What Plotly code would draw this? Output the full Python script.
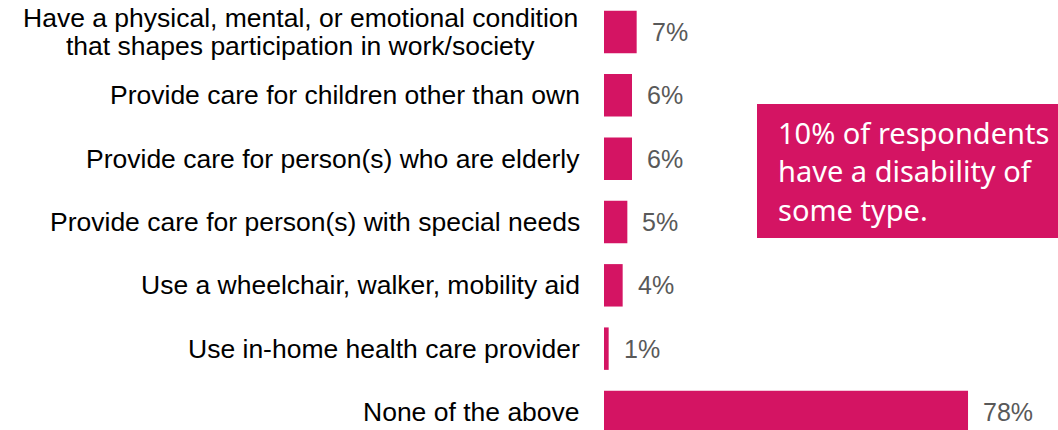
import plotly.graph_objects as go

# Survey responses: share of respondents selecting each item
categories = [
    "Have a physical, mental, or emotional condition<br>that shapes participation in work/society",
    "Provide care for children other than own",
    "Provide care for person(s) who are elderly",
    "Provide care for person(s) with special needs",
    "Use a wheelchair, walker, mobility aid",
    "Use in-home health care provider",
    "None of the above",
]
values = [7, 6, 6, 5, 4, 1, 78]
value_labels = ["7%", "6%", "6%", "5%", "4%", "1%", "78%"]
callout_lines = ["10% of respondents", "have a disability of", "some type."]

W, H = 1058, 430
L = 604                      # left margin in px: where the bars start
BAR_COLOR = "#D41463"
LABEL_FONT = "Liberation Sans, Arial, sans-serif"
CAT_SIZE = 26.5
LINE_STEP = 28               # tight line spacing for wrapped category labels

fig = go.Figure(
    go.Bar(
        x=values,
        y=categories,
        orientation="h",
        marker=dict(color=BAR_COLOR, line=dict(width=0)),
        hoverinfo="skip",
    )
)

annotations = []
# Category labels, right-aligned against the axis; wrapped lines are centred
for cat in categories:
    lines = cat.split("<br>")
    n = len(lines)
    if n == 1:
        annotations.append(dict(
            x=0, xref="paper", y=cat, yref="y",
            text=cat, showarrow=False, xanchor="right", yanchor="middle",
            xshift=-22,
            font=dict(family=LABEL_FONT, size=CAT_SIZE, color="#000000"),
        ))
    else:
        for i, line in enumerate(lines):
            annotations.append(dict(
                x=0, xref="paper", y=cat, yref="y",
                text=line, showarrow=False, xanchor="center", yanchor="middle",
                xshift=-304, yshift=((n - 1) / 2 - i) * LINE_STEP,
                height=LINE_STEP, borderpad=0,
                font=dict(family=LABEL_FONT, size=CAT_SIZE, color="#000000"),
            ))
# Value labels just beyond each bar end
for cat, v, lab in zip(categories, values, value_labels):
    annotations.append(dict(
        x=v, xref="x", y=cat, yref="y",
        text=lab, showarrow=False, xanchor="left", yanchor="middle",
        xshift=13,
        font=dict(family=LABEL_FONT, size=25, color="#595959"),
    ))
# Callout text inside the highlighted box
for i, line in enumerate(callout_lines):
    ypx = 132 + i * 38.7
    annotations.append(dict(
        x=(776 - L) / (W - L), xref="paper", y=1 - ypx / H, yref="paper",
        text=line, showarrow=False, xanchor="left", yanchor="middle",
        font=dict(family="Noto Sans, Open Sans, sans-serif", size=29, color="#FFFFFF"),
    ))

fig.update_layout(
    width=W, height=H,
    margin=dict(l=L, r=0, t=0, b=0),
    paper_bgcolor="white", plot_bgcolor="white",
    showlegend=False,
    bargap=0.33,
    xaxis=dict(range=[0, (W - L) / 4.667], visible=False, fixedrange=True),
    yaxis=dict(
        type="category", categoryorder="array", categoryarray=categories,
        range=[(H - 32) / 63.33, -32 / 63.33],
        showticklabels=False, showgrid=False, zeroline=False, showline=False,
        ticks="", fixedrange=True,
    ),
    shapes=[dict(
        type="rect", xref="paper", yref="paper",
        x0=(757 - L) / (W - L), x1=1.0,
        y0=1 - 238 / H, y1=1 - 104 / H,
        fillcolor=BAR_COLOR, line=dict(width=0), layer="below",
    )],
    annotations=annotations,
)

fig.write_html("out.html", config={"displayModeBar": False})
